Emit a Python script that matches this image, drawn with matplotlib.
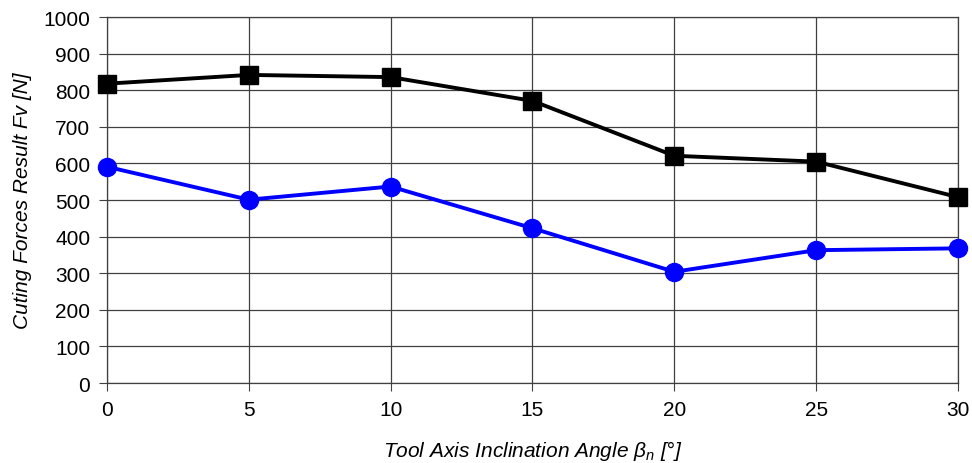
import numpy as np
import matplotlib.pyplot as plt

plt.rcParams['font.family'] = ['Liberation Sans', 'DejaVu Sans']
plt.rcParams['mathtext.fontset'] = 'custom'
plt.rcParams['mathtext.it'] = 'Liberation Sans:italic'
plt.rcParams['mathtext.rm'] = 'Liberation Sans'

# nagib osi alata i rezultantna sila rezanja
angle = [0, 5, 10, 15, 20, 25, 30]
force_black = [818, 842, 836, 771, 621, 605, 508]
force_blue = [591, 501, 537, 423, 304, 363, 368]

fig = plt.figure(figsize=(9.72, 4.64), dpi=100)
ax = fig.add_axes([0.110, 0.1724, 0.8756, 0.7886])

ax.plot(angle, force_black, color='black', lw=2.8, marker='s', ms=12.5,
        clip_on=False, zorder=3)
ax.plot(angle, force_blue, color='#0000ff', lw=2.8, marker='o', ms=13,
        clip_on=False, zorder=4)

ax.set_xlim(0, 30)
ax.set_ylim(0, 1000)
ax.set_xticks(np.arange(0, 31, 5))
ax.set_yticks(np.arange(0, 1001, 100))
ax.grid(True, color='#404040', lw=0.9)
ax.set_axisbelow(True)
for s in ax.spines.values():
    s.set_color('#404040')
    s.set_linewidth(0.9)
ax.tick_params(labelsize=15, length=6, color='#404040', pad=6)

ax.set_xlabel(r'Tool Axis Inclination Angle $\beta_n$ [°]', fontsize=15,
              style='italic', labelpad=14)
ax.set_ylabel('Cuting Forces Result Fv [N]', fontsize=15, style='italic',
              labelpad=8)

fig.savefig('out.png', dpi=100)
